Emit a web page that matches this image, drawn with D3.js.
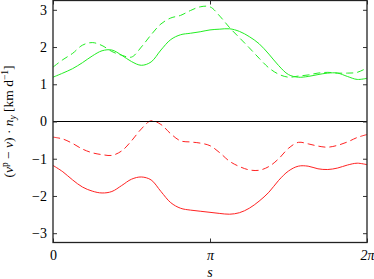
<!DOCTYPE html>
<html>
<head>
<meta charset="utf-8">
<script src="https://cdn.jsdelivr.net/npm/d3@7.9.0/dist/d3.min.js"></script>
<style>
  body { margin: 0; background: #fff; }
  svg text { font-family: "Liberation Serif", "DejaVu Serif", serif; }
</style>
</head>
<body>
<svg id="chart" width="374" height="279"></svg>
<script>
// ─────────── DATA (s in units of pi, step 1/16) ───────────
const sPi = d3.range(0, 33).map(k => k / 16);

const greenSolid = [1.19, 1.30, 1.42, 1.58, 1.76, 1.90, 1.92, 1.78, 1.61, 1.51, 1.60, 1.92, 2.20,
  2.33, 2.37, 2.41, 2.46, 2.48, 2.49, 2.42, 2.28, 2.09, 1.81, 1.50, 1.26, 1.19, 1.21, 1.26,
  1.30, 1.30, 1.21, 1.13, 1.16];
const greenDashed = [1.46, 1.66, 1.83, 2.05, 2.12, 2.04, 1.88, 1.78, 1.73, 2.00, 2.33, 2.62, 2.78,
  2.85, 2.98, 3.08, 3.08, 2.83, 2.52, 2.25, 1.98, 1.70, 1.44, 1.27, 1.19, 1.22, 1.25, 1.30,
  1.32, 1.30, 1.30, 1.32, 1.44];
const redSolid = [-1.18, -1.35, -1.57, -1.76, -1.87, -1.92, -1.88, -1.72, -1.55, -1.49, -1.57, -1.88, -2.18,
  -2.33, -2.38, -2.41, -2.44, -2.47, -2.49, -2.45, -2.33, -2.14, -1.90, -1.58, -1.33, -1.20, -1.20, -1.27,
  -1.29, -1.25, -1.17, -1.12, -1.16];
const redDashed = [-0.42, -0.47, -0.59, -0.74, -0.84, -0.89, -0.91, -0.79, -0.52, -0.20, 0.02, -0.08, -0.33,
  -0.52, -0.55, -0.58, -0.65, -0.84, -1.07, -1.21, -1.30, -1.31, -1.21, -1.00, -0.72, -0.56, -0.60, -0.66,
  -0.69, -0.64, -0.55, -0.43, -0.35];

const xTicks = [0, 1, 2];
const xTickLabels = ["0", "\u03c0", "2\u03c0"];
const yTicks = [-3, -2, -1, 0, 1, 2, 3];

const series = [
  { values: greenSolid, color: "#22ee22", dash: null },
  { values: greenDashed, color: "#22ee22", dash: "7,4" },
  { values: redSolid, color: "#ff2222", dash: null },
  { values: redDashed, color: "#ff2222", dash: "7,4" },
];

// ─────────── LAYOUT ───────────
const svg = d3.select("#chart");
const mLeft = 53, mRight = 367, mTop = 0.5, mBottom = 242.5;

const x = d3.scaleLinear().domain([0, 2]).range([mLeft, mRight]);
const y = d3.scaleLinear().domain([-3.25, 3.25]).range([mBottom, mTop]);

// curves
const line = d3.line()
  .x((d, i) => x(sPi[i]))
  .y(d => y(d))
  .curve(d3.curveCatmullRom.alpha(0.5));

series.forEach(s => {
  svg.append("path")
    .datum(s.values)
    .attr("d", line)
    .attr("fill", "none")
    .attr("stroke", s.color)
    .attr("stroke-width", 1)
    .attr("stroke-dasharray", s.dash);
});

// zero line
svg.append("line")
  .attr("x1", mLeft).attr("x2", mRight)
  .attr("y1", y(0)).attr("y2", y(0))
  .attr("stroke", "#000").attr("stroke-width", 1);

// axes (ticks pointing inward, both sides)
const tickFmt = d => d < 0 ? "\u2212" + Math.abs(d) : String(d);

const yLeft = svg.append("g")
  .attr("transform", `translate(${mLeft},0)`)
  .call(d3.axisLeft(y).tickValues(yTicks).tickSizeInner(-4).tickSizeOuter(0).tickPadding(6).tickFormat(tickFmt));
const yRight = svg.append("g")
  .attr("transform", `translate(${mRight},0)`)
  .call(d3.axisRight(y).tickValues(yTicks).tickSizeInner(-4).tickSizeOuter(0).tickFormat(""));
const xBottom = svg.append("g")
  .attr("transform", `translate(0,${mBottom})`)
  .call(d3.axisBottom(x).tickValues(xTicks).tickSizeInner(-4).tickSizeOuter(0).tickPadding(8)
    .tickFormat((d, i) => xTickLabels[i]));
const xTop = svg.append("g")
  .attr("transform", `translate(0,${mTop})`)
  .call(d3.axisTop(x).tickValues(xTicks).tickSizeInner(-4).tickSizeOuter(0).tickFormat(""));

[yLeft, yRight, xBottom, xTop].forEach(g => {
  g.select(".domain").remove();
  g.selectAll(".tick line").attr("stroke", "#333");
  g.selectAll("text").attr("font-size", 14).attr("fill", "#000")
    .style("font-family", '"Liberation Serif", serif');
});
xBottom.selectAll("text").filter((d, i) => i > 0).style("font-style", "italic");

// frame
svg.append("rect")
  .attr("x", mLeft).attr("y", mTop)
  .attr("width", mRight - mLeft).attr("height", mBottom - mTop)
  .attr("fill", "none").attr("stroke", "#222").attr("stroke-width", 1.3);

// x label
svg.append("text")
  .attr("x", x(1)).attr("y", 277)
  .attr("text-anchor", "middle")
  .attr("font-size", 14).attr("font-style", "italic")
  .text("s");

// y label
const yl = svg.append("text")
  .attr("transform", `translate(13,${y(0)}) rotate(-90)`)
  .attr("text-anchor", "middle")
  .attr("font-size", 13.5);
yl.append("tspan").text("(");
yl.append("tspan").attr("font-style", "italic").text("v");
yl.append("tspan").attr("font-size", 9.5).attr("dy", -5).text("p");
yl.append("tspan").attr("dy", 5).text(" \u2212 ");
yl.append("tspan").attr("font-style", "italic").text("v");
yl.append("tspan").text(") \u00b7 ");
yl.append("tspan").attr("font-style", "italic").text("n");
yl.append("tspan").attr("font-size", 9.5).attr("font-style", "italic").attr("dy", 3).text("y");
yl.append("tspan").attr("dy", -3).text(" [km d");
yl.append("tspan").attr("font-size", 9.5).attr("dy", -5).text("\u22121");
yl.append("tspan").attr("dy", 5).text("]");
</script>
</body>
</html>
